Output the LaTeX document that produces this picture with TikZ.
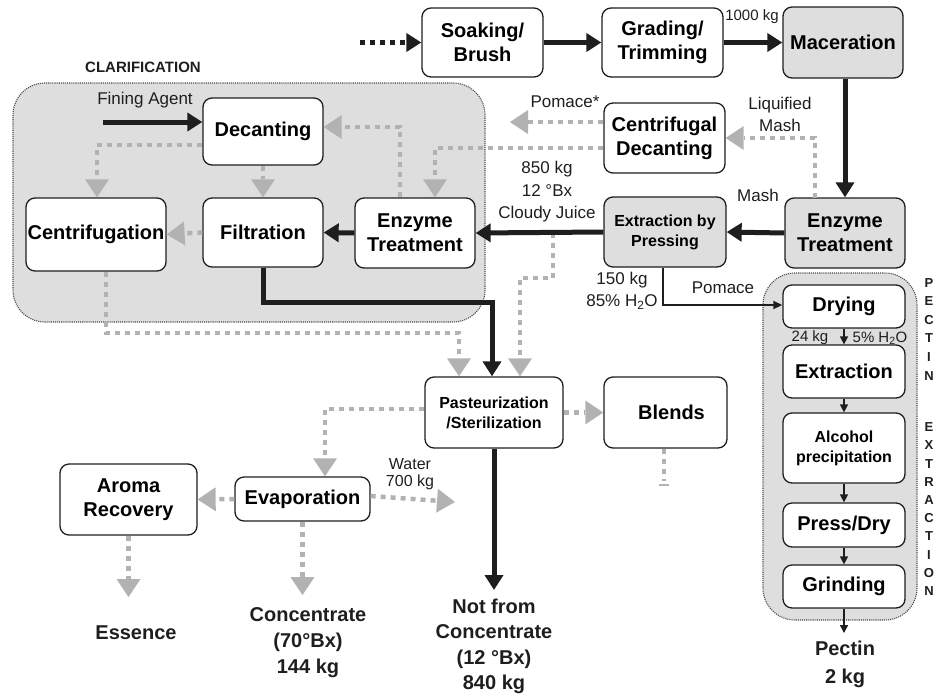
\documentclass[tikz,border=0pt]{standalone}
\usepackage{fontspec}
\setmainfont{Liberation Sans}
\usetikzlibrary{arrows.meta,calc}
\definecolor{boxgray}{RGB}{222,222,222}
\definecolor{dotgray}{RGB}{178,178,178}
\definecolor{ink}{RGB}{30,30,30}
\begin{document}
\begin{tikzpicture}[x=1pt,y=-1pt,
  box/.style={draw=ink,line width=1.3pt,rounded corners=9pt,fill=white,align=center,inner sep=0pt,
    font=\fontsize{20}{24}\selectfont\bfseries},
  gbox/.style={box,fill=boxgray},
  sfont/.style={font=\fontsize{16}{20}\selectfont\bfseries},
  region/.style={draw=ink!80,line width=1.1pt,densely dotted,fill=boxgray,rounded corners=32pt},
  blk/.style={draw=ink,line width=5pt,-{Triangle[width=18pt,length=15pt]}},
  gar/.style={draw=dotgray,line width=4.5pt,dash pattern=on 5pt off 5pt,-{Triangle[width=24pt,length=18pt,line width=0pt]}},
  gline/.style={draw=dotgray,line width=4.5pt,dash pattern=on 5pt off 5pt},
  thin/.style={draw=ink,line width=1.5pt,-{Triangle[width=8pt,length=8pt]}},
  lab/.style={font=\fontsize{17}{22}\selectfont,inner sep=0pt,align=center,text=ink},
  small/.style={font=\fontsize{15}{18}\selectfont,inner sep=0pt,text=ink},
  outtxt/.style={font=\fontsize{20}{26}\selectfont\bfseries,align=center,inner sep=0pt,text=ink},
  vl/.style={font=\fontsize{13}{13}\selectfont\bfseries,inner sep=0pt,text=ink},
]
\useasboundingbox (0,0) rectangle (937,697);

% regions
\path[region] (13,83) rectangle (485,322);
\path[region] (763,273) rectangle (917,620);
\node[font=\fontsize{15}{18}\selectfont\bfseries,text=ink,inner sep=0pt] (clarlab) at (143,67) {CLARIFICATION};

% top row
\node[box,minimum width=121pt,minimum height=69pt] (soak) at (482.5,42.5) {Soaking/\\Brush};
\node[box,minimum width=121pt,minimum height=69pt] (grade) at (662.5,42.5) {Grading/\\Trimming};
\node[gbox,minimum width=120pt,minimum height=71pt] (mac) at (843,42.5) {Maceration};

% second rows
\node[box,minimum width=121pt,minimum height=70pt] (cdec) at (664.5,138) {Centrifugal\\Decanting};
\node[gbox,minimum width=120pt,minimum height=70pt] (enzR) at (845,233) {Enzyme\\Treatment};
\node[gbox,sfont,minimum width=122pt,minimum height=70pt] (press) at (665,232) {Extraction by\\Pressing};

% clarification
\node[box,minimum width=120pt,minimum height=67pt] (dec) at (263,131.5) {Decanting};
\node[box,minimum width=120pt,minimum height=69pt] (filt) at (263,232.5) {Filtration};
\node[box,minimum width=140pt,minimum height=73pt] (cent) at (96,234.5) {Centrifugation};
\node[box,minimum width=120pt,minimum height=70pt] (enzC) at (415,233) {Enzyme\\Treatment};

% lower
\node[box,sfont,minimum width=138pt,minimum height=71pt] (past) at (494,412.5) {Pasteurization\\/Sterilization};
\node[box,minimum width=123pt,minimum height=71pt] (blends) at (665.5,412.5) {\hspace*{12pt}Blends};
\node[box,minimum width=135pt,minimum height=44pt] (evap) at (302.5,499) {Evaporation};
\node[box,minimum width=137pt,minimum height=71pt] (aroma) at (128.5,499.5) {Aroma\\Recovery};

% pectin column
\node[box,minimum width=122pt,minimum height=43pt] (dry) at (844,306.5) {Drying};
\node[box,minimum width=122pt,minimum height=53pt] (extr) at (844,371.5) {Extraction};
\node[box,sfont,minimum width=122pt,minimum height=70pt] (alc) at (844,448) {Alcohol\\precipitation};
\node[box,minimum width=122pt,minimum height=44pt] (pdry) at (844,525) {Press/Dry};
\node[box,minimum width=122pt,minimum height=43pt] (grind) at (844,586.5) {Grinding};

% vertical label
\foreach \l [count=\i] in {P,E,C,T,I,N}
  \node[vl] (pv\i) at (929,264+18.6*\i) {\l};
\foreach \l [count=\i] in {E,X,T,R,A,C,T,I,O,N}
  \node[vl] (ev\i) at (929,409+18.2*\i) {\l};

% coordinates
\coordinate (in) at (360,42.5);
\coordinate (lq) at (815,198);
\coordinate (pomtip) at (510,122);
\coordinate (fa) at (103,122);
\coordinate (cj) at (553,233);
\coordinate (nfc) at (494,590);
\coordinate (water) at (455,502);
\coordinate (conc) at (302.5,595);
\coordinate (ess) at (128.5,597);
\coordinate (pec) at (844,633);
\coordinate (blend) at (664,481);

% ---- gray dotted flows
\draw[gar] (lq) |- (cdec.east);
\draw[gar] (cdec.west |- pomtip) -- (pomtip);
\draw[gar] ([yshift=-10pt]cdec.west) -| ([xshift=20pt]enzC.north);
\draw[gar] ([xshift=-15pt]enzC.north) |- ([yshift=4.5pt]dec.east);
\draw[gar] ([yshift=-13.5pt]dec.west) -| ([xshift=1pt]cent.north);
\draw[gar] (dec.south) -- (filt.north);
\draw[gar] (filt.west) -- (cent.east);
\draw[gar] (cj) -- (553,278) -| ([xshift=26pt]past.north);
\draw[gar] ([xshift=10pt]cent.south) -- (106,333) -| ([xshift=-35pt]past.north);
\draw[gar] (past.east) -- (blends.west);
\draw[gline] ([xshift=-1.5pt]blends.south) -- (blend);
\draw[draw=dotgray,line width=1.2pt] (659,485) -- (669,485);
\draw[gar] ([yshift=3.5pt]past.west) -| ([xshift=22.5pt]evap.north);
\draw[gar] (evap.west) -- (aroma.east);
\draw[gar] ([yshift=3pt]evap.east) -- (water);
\draw[gar] (evap.south) -- (conc);
\draw[gar] (aroma.south) -- (ess);

% ---- black flows
\draw[draw=ink,line width=5pt,dash pattern=on 5pt off 5pt,-{Triangle[width=18pt,length=15pt]}] (in) -- (soak.west);
\draw[blk] (soak.east) -- (grade.west);
\draw[blk] (grade.east) -- (mac.west);
\draw[blk] ([xshift=2pt]mac.south) -- ([xshift=0pt]enzR.north);
\draw[blk] (enzR.west) -- (press.east);
\draw[blk] (press.west) -- (enzC.east);
\draw[blk] (enzC.west) -- (filt.east);
\draw[blk] (fa) -- (dec.west |- fa);
\draw[blk] (filt.south) -- (263,302) -| ([xshift=-2pt]past.north);
\draw[blk] (past.south) -- (nfc);
\draw[draw=ink,line width=1.5pt,-{Triangle[width=8pt,length=9pt]}] ([xshift=-2pt]press.south) |- ([yshift=1.5pt]dry.west);

% pectin arrows
\draw[thin] (dry.south) -- (extr.north);
\draw[thin] (extr.south) -- (alc.north);
\draw[thin] (alc.south) -- (pdry.north);
\draw[thin] (pdry.south) -- (grind.north);
\draw[thin] (grind.south) -- (pec);

% ---- labels
\node[small] (l1000) at (752,17) {1000 kg};
\node[lab] (lliq) at (780,114) {Liquified\\Mash};
\node[lab] (lmash) at (758,195) {Mash};
\node[lab] (lpomS) at (565,102) {Pomace*};
\node[lab] (lfin) at (145,100) {Fining Agent};
\node[lab,font=\fontsize{17}{22.5}\selectfont] (lcj) at (547,192) {850 kg\\12 °Bx\\Cloudy Juice};
\node[lab] (l150) at (622,291) {150 kg\\85\% H\textsubscript{2}O};
\node[lab] (lpom) at (723,288) {Pomace};
\node[small] (l24) at (810,338) {24 kg};
\node[small] (l5) at (880,338) {5\% H\textsubscript{2}O};
\node[lab,font=\fontsize{16}{17}\selectfont] (lwat) at (410,474.5) {Water\\700 kg};

% ---- outputs
\node[outtxt] (tess) at (136,633) {Essence};
\node[outtxt] (tconc) at (308,643) {Concentrate\\(70°Bx)\\144 kg};
\node[outtxt,font=\fontsize{20}{25.5}\selectfont\bfseries] (tnfc) at (494,646.5) {Not from\\Concentrate\\(12 °Bx)\\840 kg};
\node[outtxt,font=\fontsize{20}{28}\selectfont\bfseries] (tpec) at (845,664) {Pectin\\2 kg};
\end{tikzpicture}
\end{document}
